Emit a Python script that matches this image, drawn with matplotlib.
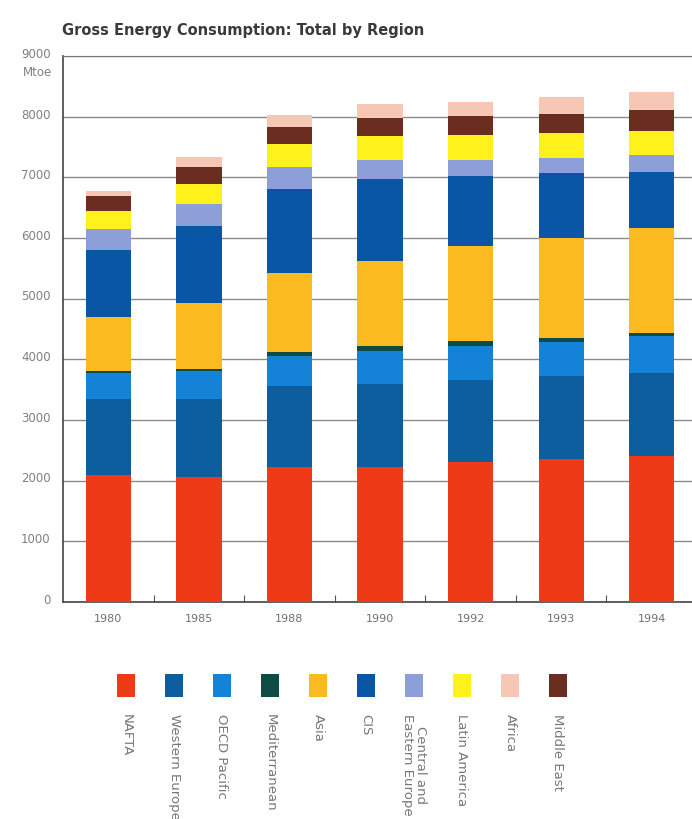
import matplotlib
matplotlib.use("Agg")
import matplotlib.pyplot as plt
import matplotlib.transforms as mtransforms
from matplotlib.patches import Rectangle
import numpy as np

years = ["1980", "1985", "1988", "1990", "1992", "1993", "1994"]

# stacking order bottom -> top
stack_names = ["NAFTA", "Western Europe", "OECD Pacific", "Mediterranean", "Asia",
               "CIS", "Central and\nEastern Europe", "Latin America", "Middle East", "Africa"]
nafta = [2090, 2060, 2230, 2230, 2310, 2360, 2400]
western_europe = [1250, 1280, 1330, 1360, 1350, 1360, 1380]
oecd_pacific = [430, 465, 490, 545, 560, 565, 600]
mediterranean = [35, 40, 70, 80, 78, 69, 56]
asia = [885, 1085, 1300, 1410, 1562, 1654, 1727]
cis = [1120, 1270, 1380, 1350, 1163, 1059, 931]
central_eastern_europe = [340, 360, 376, 311, 263, 247, 274]
latin_america = [300, 326, 368, 395, 411, 411, 400]
middle_east = [240, 290, 290, 301, 313, 318, 341]
africa = [90, 164, 192, 235, 235, 279, 296]

series = [nafta, western_europe, oecd_pacific, mediterranean, asia, cis,
          central_eastern_europe, latin_america, middle_east, africa]

colors = {
    "NAFTA": "#EE3A16",
    "Western Europe": "#0D5E9E",
    "OECD Pacific": "#1482D6",
    "Mediterranean": "#0E4B45",
    "Asia": "#FBBA1F",
    "CIS": "#0A56A6",
    "Central and\nEastern Europe": "#8C9FD9",
    "Latin America": "#FFF11C",
    "Middle East": "#6B2D1F",
    "Africa": "#F6C7B4",
}

legend_order = ["NAFTA", "Western Europe", "OECD Pacific", "Mediterranean", "Asia", "CIS",
                "Central and\nEastern Europe", "Latin America", "Africa", "Middle East"]

yticks = [0, 1000, 2000, 3000, 4000, 5000, 6000, 7000, 8000, 9000]

W, H = 692, 820
fig = plt.figure(figsize=(W / 100, H / 100), dpi=100)
fig.patch.set_facecolor("white")

ax = fig.add_axes([63 / W, 1 - 603 / H, 634 / W, 546 / H])
x = np.arange(len(years))
bottom = np.zeros(len(years))
for name, vals in zip(stack_names, series):
    v = np.array(vals, dtype=float)
    ax.bar(x, v, bottom=bottom, width=0.5, color=colors[name], zorder=3, linewidth=0)
    bottom += v

ax.set_xlim(-0.5, 6.5)
ax.set_ylim(0, 9000)
ax.set_yticks(yticks)
ax.set_yticklabels([str(t) for t in yticks], fontsize=8.5, color="#808080")
ax.set_xticks(x)
ax.set_xticklabels(years, fontsize=8, color="#707070")
ax.set_xticks(np.arange(0.5, 6.5, 1.0), minor=True)
ax.tick_params(axis="x", which="major", length=0, pad=8)
ax.tick_params(axis="x", which="minor", direction="in", length=5, color="#555555", width=0.8)
ax.tick_params(axis="y", which="major", length=0, pad=9)

offset = mtransforms.ScaledTranslation(0, 3 / 72, fig.dpi_scale_trans)
for lab in ax.get_yticklabels():
    lab.set_transform(lab.get_transform() + offset)

ax.set_axisbelow(True)
ax.yaxis.grid(True, color="#8a8a8a", linewidth=1.0, zorder=0)
ax.spines["right"].set_visible(False)
ax.spines["top"].set_color("#777777")
ax.spines["left"].set_color("#444444")
ax.spines["bottom"].set_color("#444444")
ax.spines["left"].set_linewidth(1.2)
ax.spines["bottom"].set_linewidth(1.2)

fig.text(62 / W, 1 - 30 / H, "Gross Energy Consumption: Total by Region",
         fontsize=10.5, fontweight="bold", color="#3a3a3a", ha="left", va="center")
fig.text(52 / W, 1 - 73 / H, "Mtoe", fontsize=8.5, color="#808080", ha="right", va="center")

# legend
for i, name in enumerate(legend_order):
    cx = 126 + 48 * i
    rect = Rectangle(((cx - 9) / W, 1 - 698 / H), 18 / W, 23 / H,
                     transform=fig.transFigure, facecolor=colors[name], edgecolor="none")
    fig.patches.append(rect)
    fig.text(cx / W, 1 - 714 / H, name, rotation=270, fontsize=9.5, color="#777777",
             ha="center", va="top", linespacing=1.0)

fig.savefig("out.png", dpi=100)
